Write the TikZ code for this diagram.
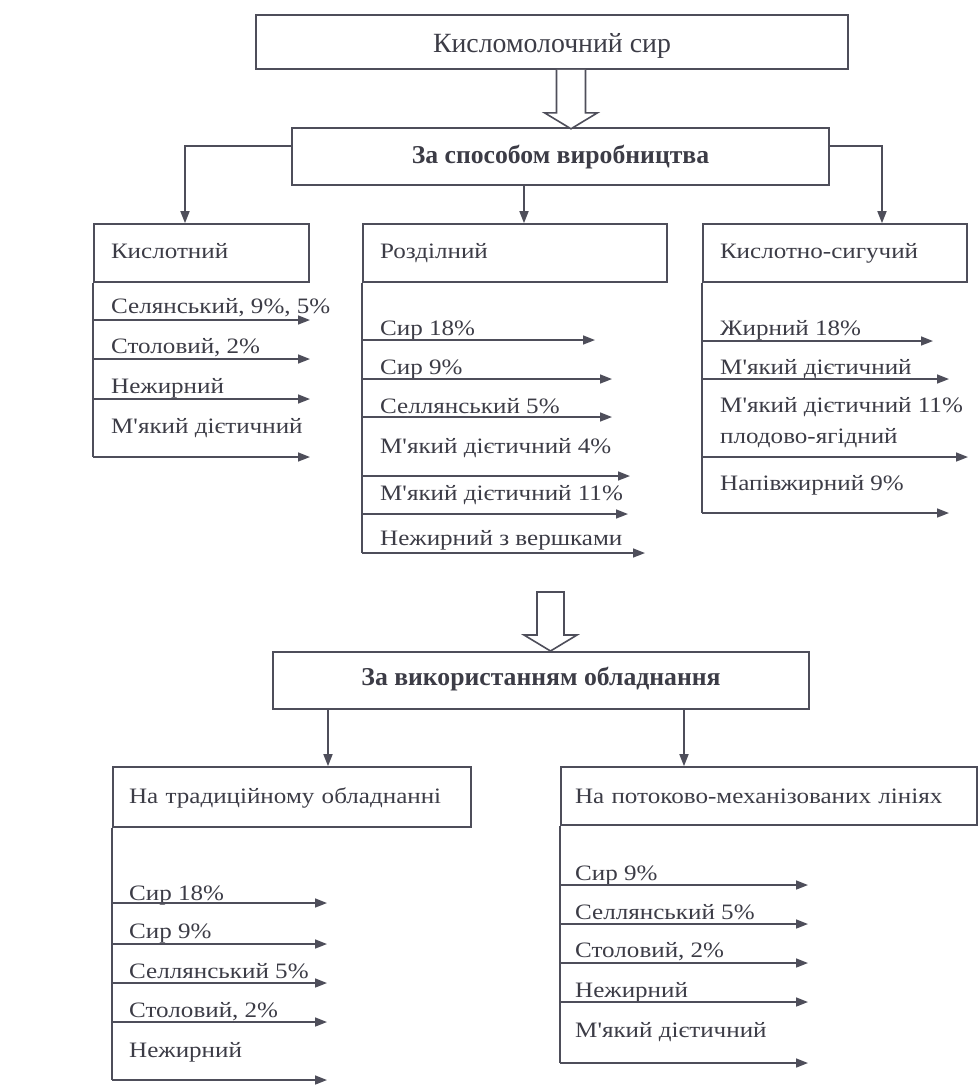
\documentclass[tikz,border=0pt]{standalone}
\usepackage{fontspec}
\newfontfamily\uaf{Liberation Serif}
\newfontfamily\uafw{Liberation Serif}[FakeStretch=1.14]
\usetikzlibrary{arrows.meta,calc}
\definecolor{ink}{RGB}{78,78,90}
\definecolor{txt}{RGB}{60,60,70}

\tikzset{
  conn/.style={draw=ink, line width=1.6pt},
  arr/.style={conn, -{Triangle[length=12pt,width=9pt]}},
  box/.style={draw=ink, line width=1.6pt, rectangle, inner sep=0pt,
              text=txt, text depth=0pt},
  cbox/.style={box, font=\uaf\fontsize{25.7}{28}\selectfont\bfseries},
  lbox/.style={box, font=\uafw\fontsize{22}{28}\selectfont,
               inner xsep=17pt, align=left},
  hollow/.style={draw=ink, line width=1.6pt, fill=white, line join=miter},
  item/.style={font=\uafw\fontsize{22}{31}\selectfont, text=txt,
               inner sep=0pt, anchor=base west, align=left},
}

\begin{document}
\begin{tikzpicture}[x=1pt, y=-1pt]
\useasboundingbox (0,0) rectangle (979,1085);

% --- top level -------------------------------------------------------
\node[box, font=\uaf\fontsize{27.8}{30}\selectfont, text height=20pt,
      minimum width=592pt, minimum height=54pt] (top) at (552,42)
      {Кисломолочний сир};
\node[cbox, text height=13pt, minimum width=537pt, minimum height=57pt]
      (sp) at (560.5,156.5) {За способом виробництва};

% hollow arrow between the two upper boxes
\coordinate (h1) at ([xshift=19pt]top.south);
\draw[hollow] (h1) ++(-14.5,0) -- ++(0,43) -- ++(-12,0) -- ++(26.5,16)
      -- ++(26.5,-16) -- ++(-12,0) -- ++(0,-43);

% --- production method groups ----------------------------------------
\node[lbox, text height=10pt, text width=181pt, minimum height=58pt]
      (kisl) at (201.5,253) {Кислотний};
\node[lbox, text height=10pt, text width=270pt, minimum height=58pt]
      (rozd) at (515,253) {Розділний};
\node[lbox, text height=10pt, text width=230pt, minimum height=58pt]
      (ksig) at (835,253) {Кислотно-сигучий};

\draw[arr] ([yshift=10.5pt]sp.west) -| ([xshift=-16.5pt]kisl.north);
\draw[arr] ([yshift=10.5pt]sp.east) -| ([xshift=47pt]ksig.north);
\draw[arr] ([xshift=-36.5pt]sp.south) -- ([xshift=-36.5pt]sp.south |- rozd.north);

% Кислотний
\node[item] (k1) at (111,313) {Селянський, 9\%, 5\%};
\node[item] (k2) at (111,353) {Столовий, 2\%};
\node[item] (k3) at (111,393) {Нежирний};
\node[item] (k4) at (111,433) {М'який дієтичний};
\coordinate (ka1) at (310,320);
\coordinate (ka2) at (310,359);
\coordinate (ka3) at (310,399);
\coordinate (ka4) at (310,457);
\draw[conn] (kisl.south west) -- (kisl.south west |- ka4);
\foreach \c in {ka1,ka2,ka3,ka4}
  \draw[arr] (kisl.south west |- \c) -- (\c);

% Розділний
\node[item] (r1) at (380,335) {Сир 18\%};
\node[item] (r2) at (380,374) {Сир 9\%};
\node[item] (r3) at (380,413) {Селлянський 5\%};
\node[item] (r4) at (380,453) {М'який дієтичний 4\%};
\node[item] (r5) at (380,500) {М'який дієтичний 11\%};
\node[item] (r6) at (380,545) {Нежирний з вершками};
\coordinate (ra1) at (595,340);
\coordinate (ra2) at (612,379);
\coordinate (ra3) at (612,417);
\coordinate (ra4) at (630,476);
\coordinate (ra5) at (628,514);
\coordinate (ra6) at (645,553);
\draw[conn] (rozd.south west) -- (rozd.south west |- ra6);
\foreach \c in {ra1,ra2,ra3,ra4,ra5,ra6}
  \draw[arr] (rozd.south west |- \c) -- (\c);

% Кислотно-сигучий (the two-line label is anchored at its last baseline)
\node[item] (s1) at (720,335) {Жирний 18\%};
\node[item] (s2) at (720,374) {М'який дієтичний};
\node[item] (s3) at (720,443) {М'який дієтичний 11\%\\плодово-ягідний};
\node[item] (s4) at (720,490) {Напівжирний 9\%};
\coordinate (sa1) at (933,341);
\coordinate (sa2) at (949,379);
\coordinate (sa3) at (968,457);
\coordinate (sa4) at (949,513);
\draw[conn] (ksig.south west) -- (ksig.south west |- sa4);
\foreach \c in {sa1,sa2,sa3,sa4}
  \draw[arr] (ksig.south west |- \c) -- (\c);

% --- equipment groups -------------------------------------------------
\coordinate (h2) at (550.5,592);
\draw[hollow] (h2) ++(-13.5,0) -- ++(0,43) -- ++(-13,0) -- ++(26.5,16)
      -- ++(26.5,-16) -- ++(-13,0) -- ++(0,-43) -- cycle;

\node[cbox, text height=9pt, minimum width=536pt, minimum height=57pt]
      (vyk) at (541,680.5) {За використанням обладнання};

\node[lbox, inner xsep=16pt, text height=12pt, text width=326pt, minimum height=60pt]
      (trad) at (292,797) {На традиційному обладнанні};
\node[lbox, inner xsep=14pt, text height=14pt, text width=388pt, minimum height=58pt]
      (potok) at (769,796) {На потоково-механізованих лініях};

\draw[arr] ([xshift=36pt]trad.north |- vyk.south) -- ([xshift=36pt]trad.north);
\draw[arr] ([xshift=-85pt]potok.north |- vyk.south) -- ([xshift=-85pt]potok.north);

% На традиційному обладнанні
\node[item] (t1) at (129,900) {Сир 18\%};
\node[item] (t2) at (129,938) {Сир 9\%};
\node[item] (t3) at (129,978) {Селлянський 5\%};
\node[item] (t4) at (129,1017) {Столовий, 2\%};
\node[item] (t5) at (129,1057) {Нежирний};
\coordinate (ta1) at (327,903);
\coordinate (ta2) at (327,944);
\coordinate (ta3) at (327,983);
\coordinate (ta4) at (327,1022);
\coordinate (ta5) at (327,1080);
\draw[conn] (trad.south west) -- (trad.south west |- ta5);
\foreach \c in {ta1,ta2,ta3,ta4,ta5}
  \draw[arr] (trad.south west |- \c) -- (\c);

% На потоково-механізованих лініях
\node[item] (p1) at (575,880) {Сир 9\%};
\node[item] (p2) at (575,919) {Селлянський 5\%};
\node[item] (p3) at (575,957) {Столовий, 2\%};
\node[item] (p4) at (575,997) {Нежирний};
\node[item] (p5) at (575,1037) {М'який дієтичний};
\coordinate (pa1) at (808,885);
\coordinate (pa2) at (808,924);
\coordinate (pa3) at (808,963);
\coordinate (pa4) at (808,1002);
\coordinate (pa5) at (808,1063);
\draw[conn] (potok.south west) -- (potok.south west |- pa5);
\foreach \c in {pa1,pa2,pa3,pa4,pa5}
  \draw[arr] (potok.south west |- \c) -- (\c);
\end{tikzpicture}
\end{document}
